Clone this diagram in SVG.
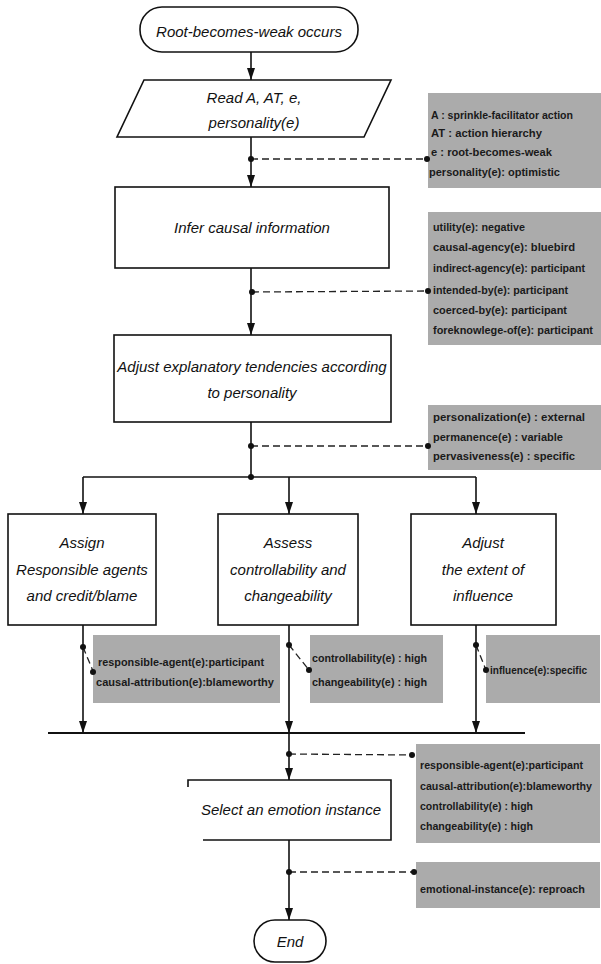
<svg xmlns="http://www.w3.org/2000/svg" width="601" height="964" viewBox="0 0 601 964">
<style>
.node{fill:#fff;stroke:#111;stroke-width:1.6}
.lbl{font-family:"Liberation Sans",Arial,sans-serif;font-style:italic;font-size:15px;fill:#111;text-anchor:middle}
.flow{stroke:#111;stroke-width:1.6;fill:none}
.dash{stroke:#222;stroke-width:1.3;stroke-dasharray:7 4;fill:none}
.note{fill:#ababab}
.nt{font-family:"Liberation Sans",Arial,sans-serif;font-weight:bold;font-size:11px;fill:#1a1a1a}
.dot{fill:#111}
</style>
<defs>
<marker id="ah" markerUnits="userSpaceOnUse" markerWidth="12" markerHeight="8" refX="12" refY="4" orient="auto" viewBox="0 0 12 8">
<path d="M0,0 L12,4 L0,8 z" fill="#111"/>
</marker>
</defs>

<g id="notes">
<g id="note1">
<rect class="note" x="428" y="93" width="173" height="95"/>
<text class="nt" x="431" y="119" textLength="142" lengthAdjust="spacingAndGlyphs">A : sprinkle-facilitator action</text>
<text class="nt" x="431" y="137" textLength="111" lengthAdjust="spacingAndGlyphs">AT : action hierarchy</text>
<text class="nt" x="431" y="156" textLength="121" lengthAdjust="spacingAndGlyphs">e : root-becomes-weak</text>
<text class="nt" x="429" y="176" textLength="131" lengthAdjust="spacingAndGlyphs">personality(e): optimistic</text>
</g>
<g id="note2">
<rect class="note" x="428" y="212" width="173" height="133"/>
<text class="nt" x="433" y="231" textLength="92" lengthAdjust="spacingAndGlyphs">utility(e): negative</text>
<text class="nt" x="433" y="251" textLength="142" lengthAdjust="spacingAndGlyphs">causal-agency(e): bluebird</text>
<text class="nt" x="433" y="272" textLength="152" lengthAdjust="spacingAndGlyphs">indirect-agency(e): participant</text>
<text class="nt" x="433" y="294" textLength="135" lengthAdjust="spacingAndGlyphs">intended-by(e): participant</text>
<text class="nt" x="433" y="314" textLength="134" lengthAdjust="spacingAndGlyphs">coerced-by(e): participant</text>
<text class="nt" x="433" y="334" textLength="160" lengthAdjust="spacingAndGlyphs">foreknowlege-of(e): participant</text>
</g>
<g id="note3">
<rect class="note" x="428" y="405" width="173" height="65"/>
<text class="nt" x="433" y="421" textLength="152" lengthAdjust="spacingAndGlyphs">personalization(e) : external</text>
<text class="nt" x="433" y="441" textLength="130" lengthAdjust="spacingAndGlyphs">permanence(e) : variable</text>
<text class="nt" x="433" y="460" textLength="142" lengthAdjust="spacingAndGlyphs">pervasiveness(e) : specific</text>
</g>
<g id="noteA">
<rect class="note" x="93" y="635" width="187" height="68"/>
<text class="nt" x="98" y="666" textLength="166" lengthAdjust="spacingAndGlyphs">responsible-agent(e):participant</text>
<text class="nt" x="96" y="686" textLength="178" lengthAdjust="spacingAndGlyphs">causal-attribution(e):blameworthy</text>
</g>
<g id="noteB">
<rect class="note" x="310" y="635" width="133" height="68"/>
<text class="nt" x="312" y="662" textLength="115" lengthAdjust="spacingAndGlyphs">controllability(e) : high</text>
<text class="nt" x="312" y="686" textLength="115" lengthAdjust="spacingAndGlyphs">changeability(e) : high</text>
</g>
<g id="noteC">
<rect class="note" x="486" y="635" width="114" height="68"/>
<text class="nt" x="490" y="674" textLength="97" lengthAdjust="spacingAndGlyphs">influence(e):specific</text>
</g>
<g id="noteD">
<rect class="note" x="416" y="744" width="184" height="99"/>
<text class="nt" x="420" y="769" textLength="163" lengthAdjust="spacingAndGlyphs">responsible-agent(e):participant</text>
<text class="nt" x="420" y="790" textLength="172" lengthAdjust="spacingAndGlyphs">causal-attribution(e):blameworthy</text>
<text class="nt" x="420" y="810" textLength="113" lengthAdjust="spacingAndGlyphs">controllability(e) : high</text>
<text class="nt" x="420" y="830" textLength="113" lengthAdjust="spacingAndGlyphs">changeability(e) : high</text>
</g>
<g id="noteE">
<rect class="note" x="416" y="862" width="184" height="46"/>
<text class="nt" x="420" y="893" textLength="165" lengthAdjust="spacingAndGlyphs">emotional-instance(e): reproach</text>
</g>
</g>

<g id="connectors">
<line class="flow" x1="251" y1="52" x2="251" y2="80" marker-end="url(#ah)"/>
<line class="flow" x1="251" y1="137" x2="251" y2="187" marker-end="url(#ah)"/>
<line class="dash" x1="251" y1="159" x2="427" y2="159"/>
<circle class="dot" cx="251" cy="159" r="3"/>
<circle class="dot" cx="427" cy="159" r="3"/>
<line class="flow" x1="251" y1="268" x2="251" y2="335" marker-end="url(#ah)"/>
<line class="dash" x1="252" y1="292" x2="428" y2="291"/>
<circle class="dot" cx="252" cy="292" r="3"/>
<circle class="dot" cx="428" cy="291" r="3"/>
<line class="flow" x1="251" y1="422" x2="251" y2="477"/>
<line class="dash" x1="251" y1="446" x2="428" y2="446"/>
<circle class="dot" cx="251" cy="446" r="3"/>
<circle class="dot" cx="428" cy="446" r="3"/>
<circle class="dot" cx="251" cy="477" r="3"/>
<line class="flow" x1="83" y1="477" x2="476" y2="477"/>
<line class="flow" x1="83" y1="477" x2="83" y2="514" marker-end="url(#ah)"/>
<line class="flow" x1="289" y1="477" x2="289" y2="514" marker-end="url(#ah)"/>
<line class="flow" x1="476" y1="477" x2="476" y2="514" marker-end="url(#ah)"/>
<line class="flow" x1="83" y1="625" x2="83" y2="733" marker-end="url(#ah)"/>
<line class="flow" x1="289" y1="625" x2="289" y2="733" marker-end="url(#ah)"/>
<line class="flow" x1="476" y1="625" x2="476" y2="733" marker-end="url(#ah)"/>
<line class="dash" x1="83" y1="647" x2="93" y2="671" stroke-dasharray="5 3"/>
<circle class="dot" cx="83" cy="647" r="3"/>
<circle class="dot" cx="93" cy="672" r="3"/>
<line class="dash" x1="289" y1="645" x2="309" y2="670" stroke-dasharray="5 3"/>
<circle class="dot" cx="289" cy="645" r="3"/>
<circle class="dot" cx="309" cy="670" r="3"/>
<line class="dash" x1="476" y1="645" x2="486" y2="670" stroke-dasharray="5 3"/>
<circle class="dot" cx="476" cy="645" r="3"/>
<circle class="dot" cx="486" cy="670" r="3"/>
<line x1="48" y1="733" x2="525" y2="733" stroke="#111" stroke-width="2"/>
<line class="flow" x1="289" y1="733" x2="289" y2="780" marker-end="url(#ah)"/>
<line class="dash" x1="289" y1="754" x2="412" y2="755"/>
<circle class="dot" cx="289" cy="754" r="3"/>
<circle class="dot" cx="412" cy="755" r="3"/>
<line class="flow" x1="289" y1="840" x2="289" y2="920" marker-end="url(#ah)"/>
<line class="dash" x1="289" y1="872" x2="414" y2="872"/>
<circle class="dot" cx="289" cy="872" r="3"/>
<circle class="dot" cx="414" cy="872" r="3"/>
</g>

<g id="start">
<rect class="node" x="140" y="7" width="218" height="45" rx="22"/>
<text class="lbl" x="249" y="37">Root-becomes-weak occurs</text>
</g>
<g id="read">
<polygon class="node" points="144,80 391,80 364,137 117,137"/>
<text class="lbl" x="254" y="103">Read A, AT, e,</text>
<text class="lbl" x="254" y="128">personality(e)</text>
</g>
<g id="infer">
<rect class="node" x="115" y="187" width="274" height="81"/>
<text class="lbl" x="252" y="233">Infer causal information</text>
</g>
<g id="adjust-tendencies">
<rect class="node" x="114" y="335" width="277" height="87"/>
<text class="lbl" x="252" y="372">Adjust explanatory tendencies according</text>
<text class="lbl" x="252" y="398">to personality</text>
</g>
<g id="assign">
<rect class="node" x="8" y="514" width="148" height="111"/>
<text class="lbl" x="82" y="548">Assign</text>
<text class="lbl" x="82" y="575">Responsible agents</text>
<text class="lbl" x="82" y="601">and credit/blame</text>
</g>
<g id="assess">
<rect class="node" x="218" y="514" width="140" height="111"/>
<text class="lbl" x="288" y="548">Assess</text>
<text class="lbl" x="288" y="575">controllability and</text>
<text class="lbl" x="288" y="601">changeability</text>
</g>
<g id="adjust-influence">
<rect class="node" x="411" y="514" width="145" height="111"/>
<text class="lbl" x="483" y="548">Adjust</text>
<text class="lbl" x="483" y="575">the extent of</text>
<text class="lbl" x="483" y="601">influence</text>
</g>
<g id="select">
<path d="M188,787 L188,780 L391,780 L391,840 L203,840" fill="#fff" stroke="#111" stroke-width="1.6"/>
<text class="lbl" x="291" y="815">Select an emotion instance</text>
</g>
<g id="end">
<rect class="node" x="254" y="920" width="72" height="42" rx="21"/>
<text class="lbl" x="290" y="947">End</text>
</g>
</svg>
